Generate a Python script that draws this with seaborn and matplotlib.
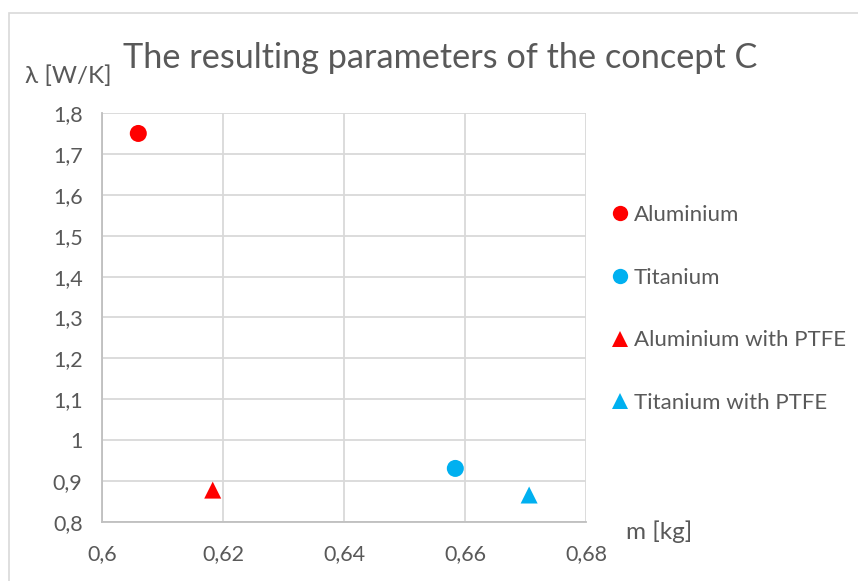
import matplotlib
matplotlib.use("Agg")
import matplotlib.pyplot as plt
from matplotlib.ticker import FuncFormatter, MultipleLocator
from matplotlib.patches import Rectangle
import seaborn as sns
import pandas as pd

# Concept C results: mass vs. thermal conductance
materials = ["Aluminium", "Titanium", "Aluminium with PTFE", "Titanium with PTFE"]
mass_kg = [0.606, 0.6584, 0.6183, 0.6706]
conductance_w_k = [1.75, 0.931, 0.878, 0.866]
colors = ["#FF0000", "#00B0F0", "#FF0000", "#00B0F0"]
markers = ["o", "o", "^", "^"]

df = pd.DataFrame({"material": materials, "m": mass_kg, "lam": conductance_w_k})

sns.set_style("white")
plt.rcParams["font.family"] = ["Lato", "DejaVu Sans"]
text_grey = "#595959"
grid_grey = "#D9D9D9"

fig = plt.figure(figsize=(8.58, 5.81), dpi=100)
ax = fig.add_axes([102 / 858, 1 - 522 / 581, (586 - 102) / 858, (522 - 113) / 581])

# outer chart frame
fig.patches.append(Rectangle((9 / 858, -0.1), 1.0, 1 - 13 / 581 + 0.1,
                             transform=fig.transFigure, fill=False,
                             edgecolor="#D9D9D9", linewidth=1.2))

sns.scatterplot(data=df, x="m", y="lam", hue="material", style="material",
                palette=dict(zip(materials, colors)),
                markers=dict(zip(materials, markers)),
                hue_order=materials, style_order=materials,
                s=150, linewidth=0, ax=ax, zorder=3)

ax.set_xlim(0.6, 0.68)
ax.set_ylim(0.8, 1.8)
ax.xaxis.set_major_locator(MultipleLocator(0.02))
ax.yaxis.set_major_locator(MultipleLocator(0.1))
fmt = FuncFormatter(lambda v, p: f"{round(v, 4):g}".replace(".", ","))
ax.xaxis.set_major_formatter(fmt)
ax.yaxis.set_major_formatter(fmt)
ax.grid(True, color=grid_grey, linewidth=1.3)
ax.set_axisbelow(True)
for side in ["top", "right"]:
    ax.spines[side].set_visible(False)
for side in ["left", "bottom"]:
    ax.spines[side].set_color("#BFBFBF")
    ax.spines[side].set_linewidth(1.3)
ax.tick_params(axis="both", length=0, labelsize=15.5, colors=text_grey)
ax.tick_params(axis="x", pad=16)
ax.tick_params(axis="y", pad=14)
ax.set_xlabel("")
ax.set_ylabel("")

fig.text(440 / 858, 1 - 58 / 581, "The resulting parameters of the concept C",
         ha="center", va="center", fontsize=24.7, color=text_grey)
fig.text(25 / 858, 1 - 76 / 581, "λ [W/K]", ha="left", va="center",
         fontsize=17.5, color=text_grey)
fig.text(626 / 858, 1 - 532 / 581, "m [kg]", ha="left", va="center",
         fontsize=17.5, color=text_grey)

ax.get_legend().remove()
handles, labels = ax.get_legend_handles_labels()
leg = fig.legend(handles, labels, loc="upper left",
                 bbox_to_anchor=(583 / 858, 1 - 185 / 581),
                 frameon=False, fontsize=16, labelspacing=1.92,
                 handletextpad=-0.1, handlelength=1.5, markerscale=0.9,
                 labelcolor=text_grey)

fig.savefig("out.png", dpi=100, facecolor="white")
